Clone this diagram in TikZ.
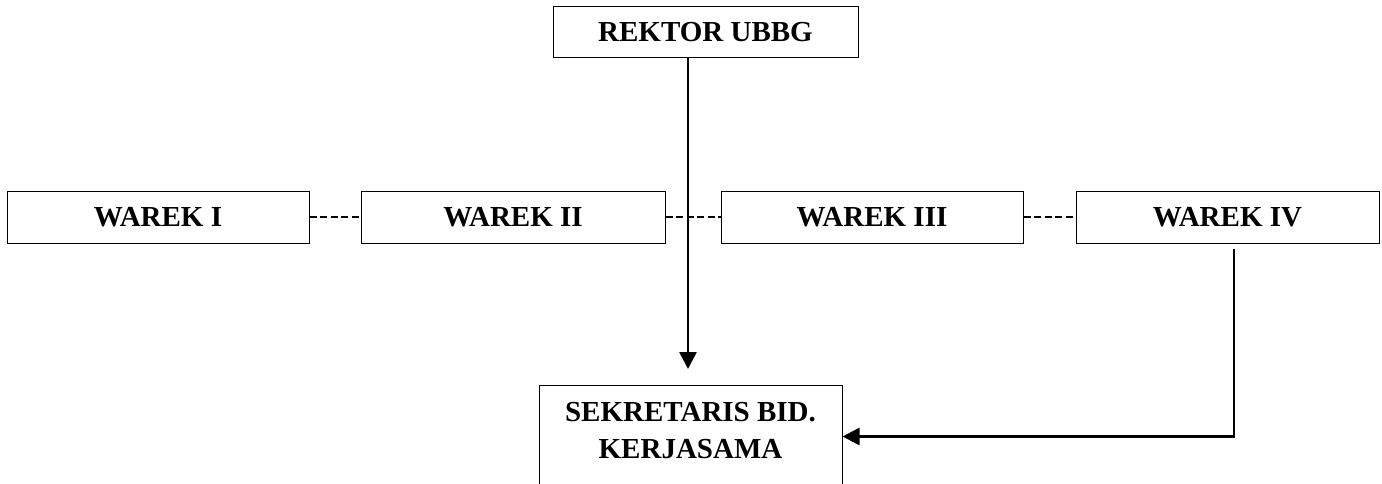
\documentclass[tikz,border=0pt]{standalone}
\usepackage{fontspec}
\setmainfont{Liberation Serif}
\usetikzlibrary{arrows.meta}
\begin{document}
\begin{tikzpicture}[x=1pt,y=1pt,
  box/.style={draw, line width=1pt, rectangle, minimum height=52pt, inner sep=0pt,
    font=\fontsize{29}{37}\selectfont\bfseries},
  dashlink/.style={line width=2.8pt, dash pattern=on 7pt off 3.5pt},
  arrowlink/.style={line width=2.6pt, -{Triangle[width=17pt,length=17pt]}}]
\useasboundingbox (0,0) rectangle (1382,-484);
\node[box, minimum width=305pt, minimum height=51pt] (rektor) at (705.5,-32.5) {REKTOR UBBG};
\node[box, minimum width=302pt] (w1) at (158,-217) {WAREK I};
\node[box, minimum width=304pt] (w2) at (513,-217) {WAREK II};
\node[box, minimum width=302pt] (w3) at (872,-217) {WAREK III};
\node[box, minimum width=303pt] (w4) at (1227.5,-217) {WAREK IV};
\node[box, minimum width=303pt, minimum height=110pt, anchor=north] (sek) at (690.5,-385) {};
\node[align=center, inner sep=0pt, font=\fontsize{29}{37}\selectfont\bfseries] (sektext) at (690.5,-431) {SEKRETARIS BID.\\KERJASAMA};
\draw[dashlink] (w1.east) -- (w2.west);
\draw[dashlink] (w2.east) -- (w3.west);
\draw[dashlink] (w3.east) -- (w4.west);
\coordinate (rk) at ([xshift=-17.5pt]rektor.south);
\draw[arrowlink, shorten >=16pt] (rk) -- (rk |- sek.north);
\coordinate (w4s) at ([xshift=6.5pt, yshift=-5pt]w4.south);
\draw[arrowlink, line join=miter] (w4s) |- ([yshift=4pt]sek.east);
\end{tikzpicture}
\end{document}
